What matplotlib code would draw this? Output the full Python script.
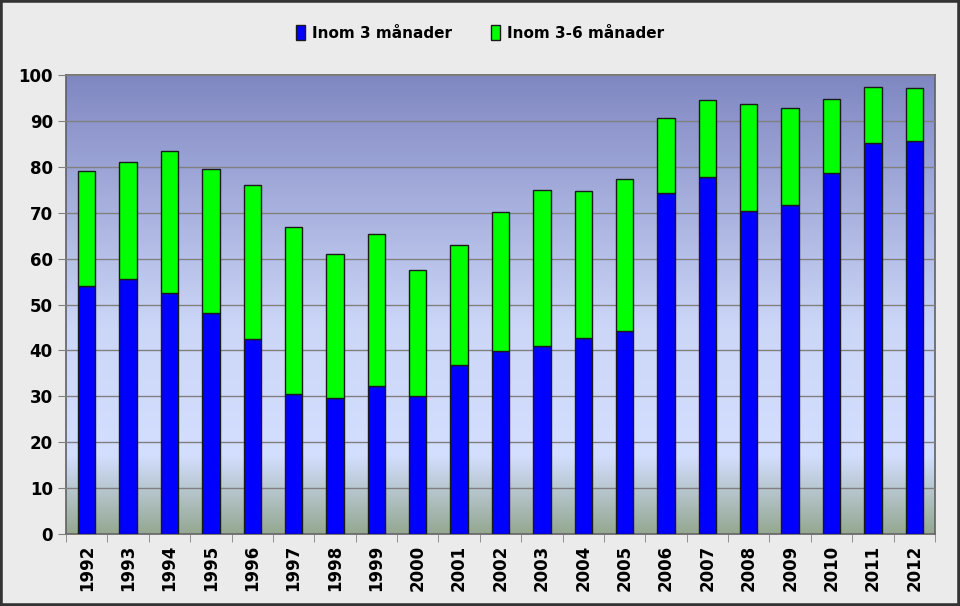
import numpy as np
import matplotlib
matplotlib.use('Agg')
import matplotlib.pyplot as plt
from matplotlib.colors import LinearSegmentedColormap
from matplotlib.patches import Rectangle

# data
years = ['1992', '1993', '1994', '1995', '1996', '1997', '1998', '1999', '2000', '2001', '2002',
         '2003', '2004', '2005', '2006', '2007', '2008', '2009', '2010', '2011', '2012']
within_3 = [54.0, 55.6, 52.5, 48.1, 42.5, 30.5, 29.6, 32.2, 30.1, 36.8, 39.9,
            41.0, 42.7, 44.2, 74.3, 77.8, 70.4, 71.7, 78.6, 85.2, 85.6]
total = [79.1, 81.0, 83.4, 79.5, 76.0, 66.9, 61.0, 65.4, 57.5, 63.0, 70.2,
         75.0, 74.7, 77.3, 90.6, 94.6, 93.7, 92.8, 94.8, 97.4, 97.2]
within_3_6 = [t - b for t, b in zip(total, within_3)]

fig = plt.figure(figsize=(9.6, 6.06), dpi=100, facecolor='#EBEBEB')
ax = fig.add_axes([66/960, 1-534/606, 869/960, 459/606])

# gradient plot background
grad_cmap = LinearSegmentedColormap.from_list('bg', [
    (0.0, (0.58, 0.66, 0.57)),
    (0.17, (0.83, 0.87, 1.0)),
    (0.45, (0.80, 0.84, 0.97)),
    (1.0, (0.50, 0.53, 0.76))])
grad = np.linspace(0, 1, 256).reshape(-1, 1)
ax.imshow(grad, cmap=grad_cmap, origin='lower', aspect='auto',
          extent=[-0.5, len(years) - 0.5, 0, 100], zorder=0)

x = np.arange(len(years))
ax.bar(x, within_3, width=0.42, color='#0000FF', edgecolor='#1a1a1a', linewidth=1,
       label='Inom 3 månader', zorder=3)
ax.bar(x, within_3_6, width=0.42, bottom=within_3, color='#00FF00', edgecolor='#1a1a1a',
       linewidth=1, label='Inom 3-6 månader', zorder=3)

ax.set_xlim(-0.5, len(years) - 0.5)
ax.set_ylim(0, 100)
ax.set_yticks(range(0, 101, 10))
ax.yaxis.grid(True, color='#808080', linewidth=1)
ax.set_axisbelow(False)
for gl in ax.get_ygridlines():
    gl.set_zorder(1)

ax.set_xticks(x)
ax.set_xticklabels(years, rotation=90, fontsize=12, fontweight='bold')
ax.set_xticks(np.arange(-0.5, len(years), 1), minor=True)
ax.tick_params(axis='x', which='major', length=0, pad=8)
ax.tick_params(axis='x', which='minor', length=6, color='#808080')
ax.tick_params(axis='y', length=6, color='#808080', labelsize=12)
for lbl in ax.get_yticklabels():
    lbl.set_fontweight('bold')

for s in ax.spines.values():
    s.set_color('#606060')
    s.set_linewidth(1.2)

leg = fig.legend(loc='center', bbox_to_anchor=(0.5, 1-33/606), ncol=2, frameon=False,
                 prop={'weight': 'bold', 'size': 11}, handlelength=0.6, handleheight=1.1,
                 columnspacing=2.6, handletextpad=0.4)

# dark frame around the figure
fig.patches.append(Rectangle((0, 0), 1, 1, transform=fig.transFigure, fill=False,
                             edgecolor='#333333', linewidth=4))

plt.savefig('out.png', dpi=100, facecolor=fig.get_facecolor())
